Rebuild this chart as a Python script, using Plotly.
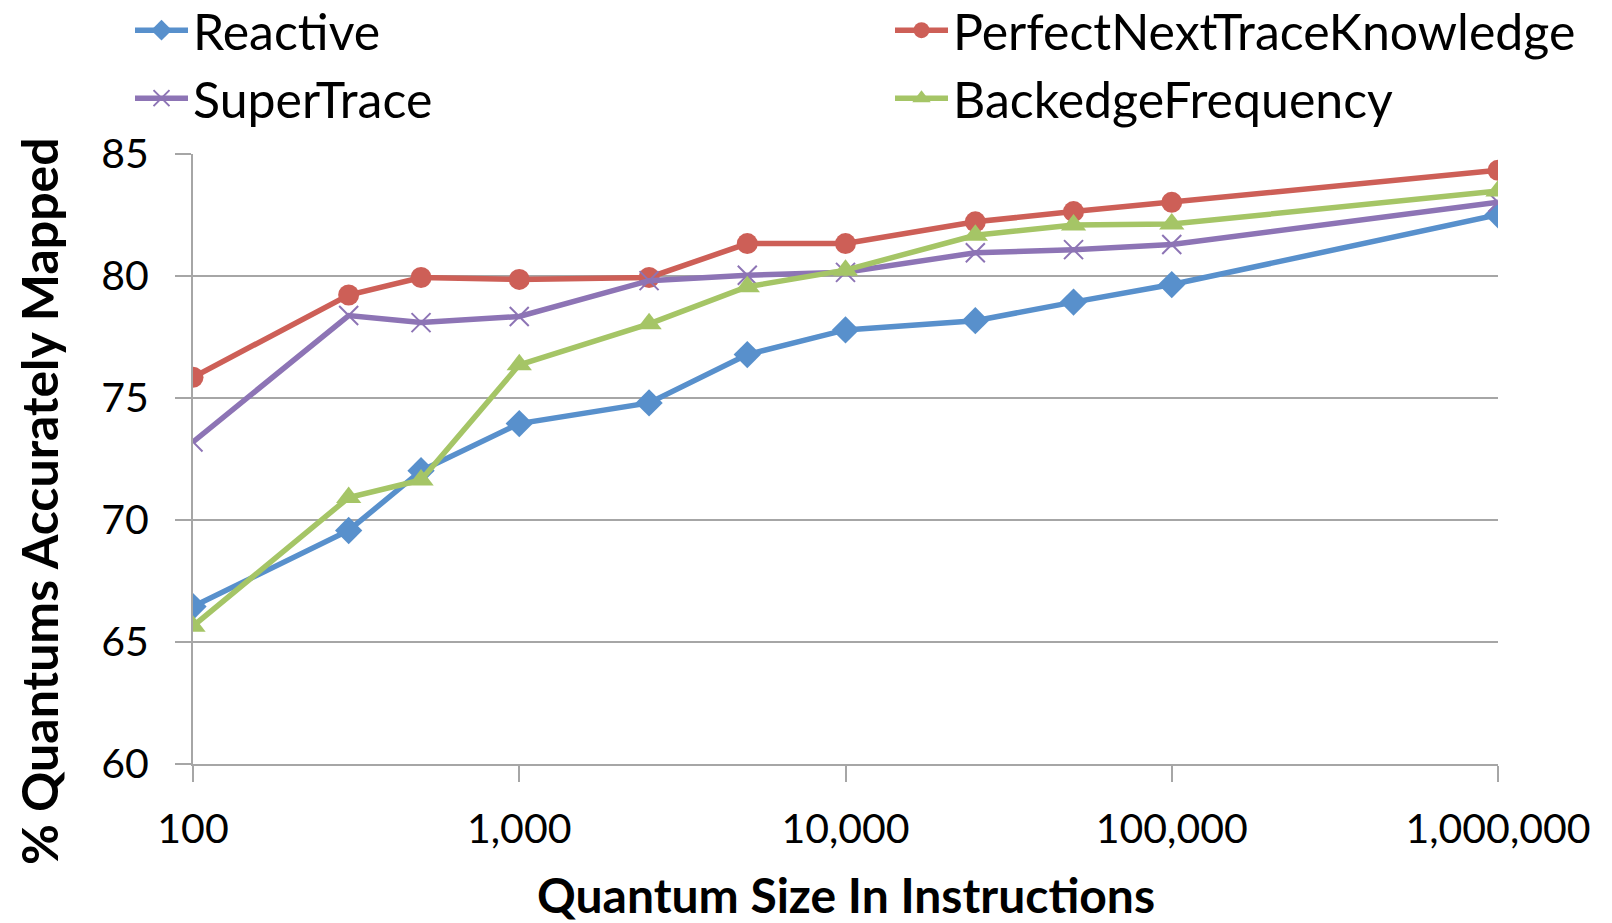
import plotly.graph_objects as go

# Quantum sizes (instructions) and mapping accuracy (%) per predictor
quantum_sizes = [100, 300, 500, 1000, 2500, 5000, 10000, 25000, 50000, 100000, 1000000]

reactive = [66.45, 69.57, 72.02, 73.95, 74.80, 76.78, 77.79, 78.17, 78.93, 79.65, 82.51]
perfect_next = [75.85, 79.22, 79.94, 79.86, 79.94, 81.33, 81.33, 82.22, 82.64, 83.02, 84.33]
super_trace = [73.20, 78.38, 78.09, 78.34, 79.81, 80.03, 80.15, 80.95, 81.08, 81.29, 83.02]
backedge_freq = [65.65, 70.92, 71.64, 76.36, 78.04, 79.56, 80.24, 81.67, 82.09, 82.13, 83.48]

x_tickvals = [100, 1000, 10000, 100000, 1000000]
x_ticktext = ["100", "1,000", "10,000", "100,000", "1,000,000"]
y_tickvals = [60, 65, 70, 75, 80, 85]

FONT = "Lato"
GRID = "#A6A6A6"

# (name, values, colour, marker symbol, marker size, legend column)
series = [
    ("Reactive", reactive, "#5890CC", "diamond", 21, "legend"),
    ("PerfectNextTraceKnowledge", perfect_next, "#CD5F57", "circle", 21, "legend2"),
    ("SuperTrace", super_trace, "#8D74B5", "x-thin", 19, "legend"),
    ("BackedgeFrequency", backedge_freq, "#A5C566", "triangle-up", 22, "legend2"),
]

fig = go.Figure()
for name, vals, color, symbol, size, leg in series:
    marker = dict(symbol=symbol, size=size, color=color)
    if symbol == "x-thin":
        marker["line"] = dict(color=color, width=2)
    fig.add_trace(go.Scatter(
        x=quantum_sizes, y=vals, name=name, mode="lines+markers",
        line=dict(color=color, width=5.5), marker=marker, legend=leg,
    ))

legend_common = dict(
    orientation="v", xanchor="left", xref="container",
    yref="paper", y=1.267, yanchor="top",
    font=dict(family=FONT, size=50), itemwidth=53,
    tracegroupgap=0, bgcolor="rgba(0,0,0,0)",
)

fig.update_layout(
    width=1612, height=923,
    margin=dict(l=193, r=114, t=154, b=159, autoexpand=False),
    paper_bgcolor="white", plot_bgcolor="white",
    font=dict(family=FONT, size=41, color="black"),
    showlegend=True,
    legend=dict(x=130 / 1612, **legend_common),
    legend2=dict(x=890 / 1612, **legend_common),
    xaxis=dict(
        type="log", range=[2, 6], tickvals=x_tickvals, ticktext=x_ticktext,
        showgrid=False, showline=True, linecolor=GRID, linewidth=2,
        ticks="outside", ticklen=16, tickwidth=2, tickcolor=GRID,
        tickfont=dict(size=41), zeroline=False, ticklabelstandoff=12,
    ),
    yaxis=dict(
        range=[60, 85], tickvals=y_tickvals,
        showgrid=True, gridcolor=GRID, gridwidth=2,
        showline=True, linecolor=GRID, linewidth=2,
        ticks="outside", ticklen=16, tickwidth=2, tickcolor=GRID,
        tickfont=dict(size=41), zeroline=False, ticklabelstandoff=18,
    ),
    annotations=[
        dict(text="<b>Quantum Size In Instructions</b>", xref="paper", yref="paper",
             x=0.5, y=(764 - 894) / 610, xanchor="center", yanchor="middle",
             showarrow=False, font=dict(size=48)),
        dict(text="<b>% Quantums Accurately Mapped</b>", xref="paper", yref="paper",
             x=-0.118, y=0.431, xanchor="center", yanchor="middle", textangle=-90,
             showarrow=False, font=dict(size=50)),
    ],
)

fig.write_html("out.html")
